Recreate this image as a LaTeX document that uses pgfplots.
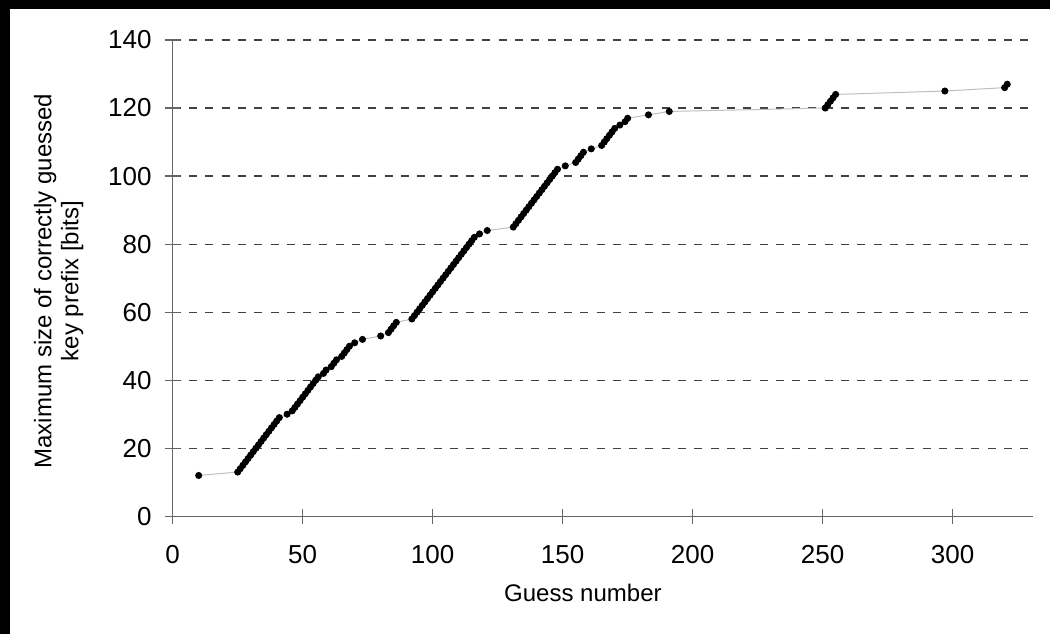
\documentclass[border=0pt]{standalone}
\usepackage{pgfplots}
\pgfplotsset{compat=1.18}
\usepackage{fontspec}
\setmainfont{Liberation Sans}
\begin{document}
\begin{tikzpicture}
\fill[white] (-20pt,-20pt) rectangle (545pt,336.5pt);
\fill[black] (-20pt,-20pt) rectangle (5pt,336.5pt);
\fill[black] (-20pt,312pt) rectangle (545pt,336.5pt);
\begin{axis}[
  at={(86.35pt,58.35pt)}, anchor=south west,
  scale only axis, width=430pt, height=238.15pt,
  xmin=0, xmax=330.8, ymin=0, ymax=140,
  xtick={0,50,...,300}, ytick={0,20,...,140},
  axis x line*=bottom, axis y line*=left,
  axis line style={draw=black!60, line width=0.6pt},
  tick align=center, major tick length=7.5pt,
  tick style={draw=black!60, line width=0.6pt},
  ymajorgrids=true,
  major grid style={draw=black!75, line width=0.6pt, dash pattern=on 4pt off 4.15pt},
  /pgf/number format/assume math mode=true,
  ticklabel style={font=\fontsize{13}{15}\selectfont, text=black},
  yticklabel style={anchor=east, inner sep=0pt, xshift=-6.6pt},
  xticklabel style={anchor=north, inner sep=0pt, yshift=-10.6pt},
  xlabel={Guess number},
  ylabel={Maximum size of correctly guessed\\key prefix [bits]},
  xlabel style={at={(axis description cs:0.477,-0.161)}, anchor=center, font=\fontsize{12}{14}\selectfont},
  ylabel style={at={(axis description cs:-0.1326,0.494)}, anchor=center, align=center, rotate=0, font=\fontsize{12}{13.5}\selectfont},
]
\addplot[color=black!25, line width=0.5pt, mark=*, mark size=1.5pt,
  mark options={draw=black, fill=black}] coordinates {
(10,12)
(25,13)(26,14)(27,15)(28,16)(29,17)(30,18)(31,19)(32,20)(33,21)(34,22)(35,23)(36,24)(37,25)(38,26)(39,27)(40,28)(41,29)
(44,30)
(46,31)(47,32)(48,33)(49,34)(50,35)(51,36)(52,37)(53,38)(54,39)(55,40)
(56,41)(58,42)(59,43)(61,44)(62,45)(63,46)(65,47)(66,48)(67,49)(68,50)(70,51)
(73,52)(80,53)(83,54)(84,55)(85,56)(86,57)
(92,58)(93,59)(94,60)(95,61)(96,62)(97,63)(98,64)(99,65)(100,66)(101,67)(102,68)(103,69)(104,70)(105,71)(106,72)(107,73)(108,74)(109,75)(110,76)(111,77)(112,78)(113,79)(114,80)(115,81)(116,82)
(118,83)(121,84)
(131,85)(132,86)(133,87)(134,88)(135,89)(136,90)(137,91)(138,92)(139,93)(140,94)(141,95)(142,96)(143,97)(144,98)(145,99)(146,100)(147,101)(148,102)
(151,103)(155,104)(156,105)(157,106)(158,107)(161,108)
(165,109)(166,110)(167,111)(168,112)(169,113)(170,114)
(172,115)(174,116)(175,117)(183,118)(191,119)
(251,120)(252,121)(253,122)(254,123)(255,124)
(297,125)(320,126)(321,127)
};
\end{axis}
\pgfresetboundingbox
\useasboundingbox (0,0) rectangle (525pt,316.5pt);
\end{tikzpicture}
\end{document}
